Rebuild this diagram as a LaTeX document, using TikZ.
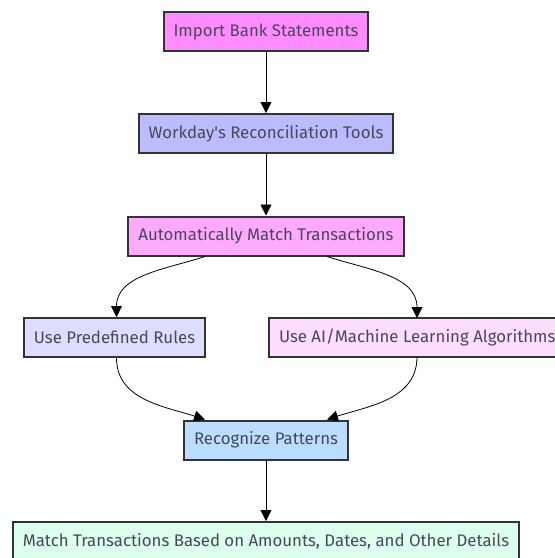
\documentclass[tikz,border=0pt]{standalone}
\usepackage{fontspec}
\setmainfont{Fira Sans}
\usepackage{tikz}
\usetikzlibrary{arrows.meta, positioning, calc}
\definecolor{boxline}{RGB}{51,51,51}
\definecolor{txtgray}{RGB}{72,72,88}
\definecolor{pinkA}{RGB}{255,140,255}
\definecolor{pinkB}{RGB}{255,170,255}
\definecolor{pinkC}{RGB}{255,221,255}
\definecolor{lilacA}{RGB}{187,187,255}
\definecolor{lilacB}{RGB}{221,221,255}
\definecolor{skyblue}{RGB}{187,221,255}
\definecolor{mintgreen}{RGB}{221,255,238}
\tikzset{
  flowbox/.style={rectangle, draw=boxline, line width=2pt, text=txtgray,
    minimum height=39pt, inner xsep=10pt, font=\fontsize{16.8}{19}\selectfont},
  arrow/.style={-{Triangle[length=11pt, width=11pt]}, line width=0.8pt, color=black},
}

\begin{document}
\begin{tikzpicture}[x=1pt, y=-1pt]
  \useasboundingbox (0,0) rectangle (555,558);

  \node[flowbox, fill=pinkA]     (import)  at (266,31.5)  {Import Bank Statements};
  \node[flowbox, fill=lilacA]    (tools)   at (266,133.5) {Workday\textquotesingle s Reconciliation Tools};
  \node[flowbox, fill=pinkB]     (auto)    at (266,236)   {Automatically Match Transactions};
  \node[flowbox, fill=lilacB]    (rules)   at (114.5,337.5) {Use Predefined Rules};
  \node[flowbox, fill=pinkC, anchor=west] (ml) at (268,337.5)
    {Use AI/Machine Learning Algorithms};
  \node[flowbox, fill=skyblue]   (pattern) at (266,440)   {Recognize Patterns};
  \node[flowbox, fill=mintgreen] (match)   at (266,541.5)
    {Match Transactions Based on Amounts, Dates, and Other Details};

  % straight links down the middle
  \foreach \f/\t in {import/tools,tools/auto,pattern/match}
    \draw[arrow] (\f)--(\t);

  % fan out to the two matching methods
  \draw[arrow] ([xshift=-61pt]auto.south) to[out=198, in=90] ([xshift=2pt]rules.north);
  \draw[arrow] ([xshift=61pt]auto.south) to[out=-18, in=90] (417,318);
  % and back in
  \draw[arrow] ([xshift=2pt]rules.south) to[out=-90, in=162] ([xshift=-61pt]pattern.north);
  \draw[arrow] (417,357) to[out=-90, in=18] ([xshift=61pt]pattern.north);
\end{tikzpicture}
\end{document}
